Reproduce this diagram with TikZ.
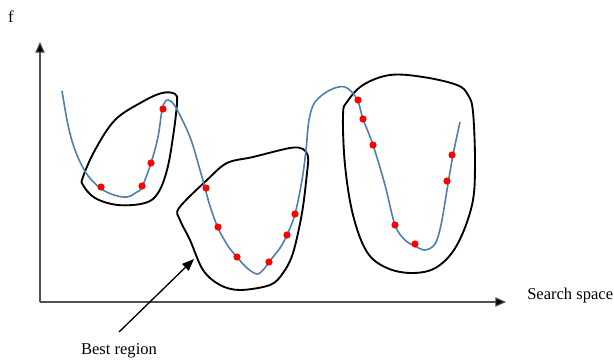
\documentclass[tikz,border=0pt]{standalone}
\usepackage{fontspec}
\setmainfont{Liberation Serif}
\usetikzlibrary{arrows.meta}
\definecolor{curveblue}{HTML}{4F7FAD}
\definecolor{axisgray}{HTML}{505050}
\tikzset{
  axisline/.style={draw=axisgray,line width=0.8pt,-{Triangle[length=8pt,width=7pt,fill=black]}},
  blob/.style={draw=black,line width=1.4pt},
  fcurve/.style={draw=curveblue,line width=1.2pt},
  sample/.style={fill=red,draw=none},
  lbl/.style={font=\fontsize{12.4}{14}\selectfont,inner sep=0pt},
  pointer/.style={draw=black,line width=1pt,-{Triangle[length=9pt,width=7pt]}}
}
\begin{document}
\begin{tikzpicture}[x=0.75pt,y=-0.75pt]
\useasboundingbox (0,0) rectangle (614,362);
% labels
\node[lbl] (f) at (11,17) {f};
\node[lbl,anchor=west] (ss) at (527,296) {Search space};
\node[lbl] (best) at (119,351) {Best region};
% axes
\coordinate (o) at (40,302);
\coordinate (ytop) at (40,42);
\coordinate (xend) at (506,302);
\draw[axisline] (o) -- (ytop);
\draw[axisline] (o) -- (xend);
% blobs
\draw[blob] plot[smooth cycle,tension=0.6] coordinates {
 (162,93) (175,94) (177,103) (173,137) (167,170) (158,193) (145,203) (118,205) (95,198) (83,185) (83,177) (95,150) (115,120) (142,102)};
\draw[blob] plot[smooth cycle,tension=0.55] coordinates {
 (179,208) (207,180) (227,163) (253,157) (290,148) (303,149) (308,157) (307,173) (302,213) (293,253) (283,273) (270,285) (240,290) (220,285) (203,270) (190,240) (180,220)};
\draw[blob] plot[smooth cycle,tension=0.6] coordinates {
 (390,75) (423,77) (457,85) (468,95) (473,112) (475,165) (472,205) (457,245) (437,267) (413,273) (387,268) (367,252) (353,215) (345,165) (343,115) (347,102) (363,85)};
% function curve
\draw[fcurve] plot[smooth,tension=0.55] coordinates {
 (62,91) (68,125) (75,150) (86,173) (100,188) (114,195) (127,197) (137,192) (142,187) (151,163) (158,137) (162,110) (165,102) (168,100) (175,106) (190,137) (200,170) (205,188) (210,206) (218,228) (228,246) (237,257) (247,268) (257,274) (264,269) (269,262) (280,248) (287,235) (295,214) (302,180) (306,150) (309,120) (315,102) (330,90) (345,87) (357,99) (363,119) (373,145) (385,185) (395,225) (405,240) (415,246) (425,250) (435,244) (441,225) (447,190) (453,155) (460,122)};
% samples
\foreach \p in {(101,187),(142,186),(151,163),(163,109),
  (206,188),(218,227),(237,257),(269,262),(287,235),(295,214),
  (358,100),(363,119),(373,145),(395,225),(415,244),(447,181),(452,155)}
  \fill[sample] \p circle (3.6);
% pointer
\coordinate (tail) at (119,332);
\coordinate (tip) at (194,259);
\draw[pointer] (tail) -- (tip);
\end{tikzpicture}
\end{document}
